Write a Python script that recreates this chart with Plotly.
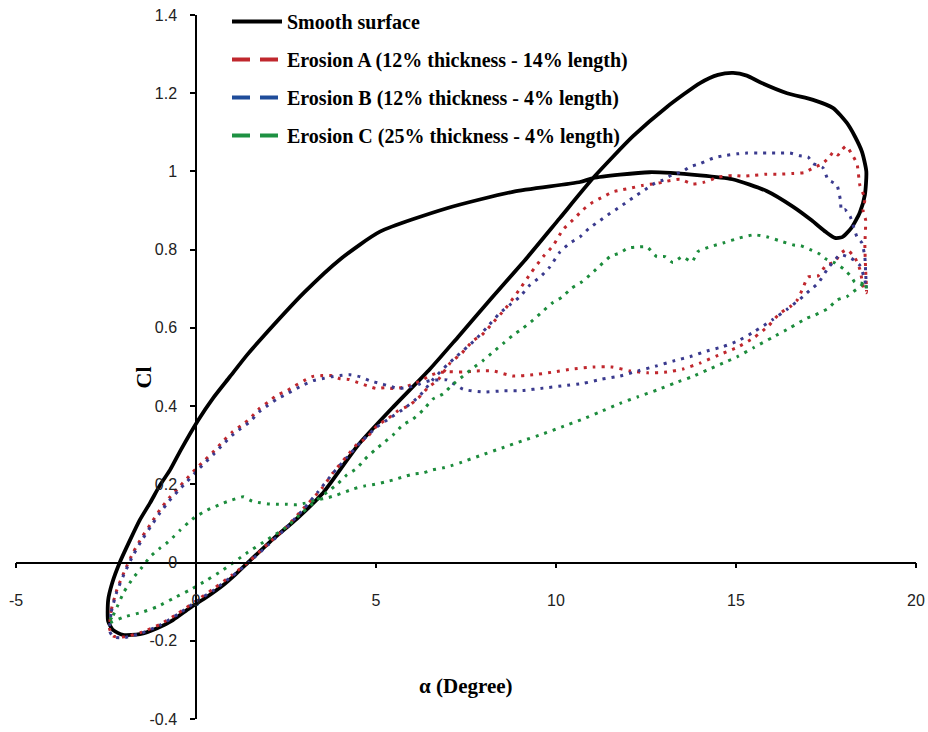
import plotly.graph_objects as go

# ---- Lift coefficient hysteresis loops (alpha in degrees, Cl) ----
smooth_alpha = [-2.44, -2.3, -2.03, -1.56, -1.08, -0.64, -0.17, 0.3, 0.75, 1.1, 1.5, 2.14, 2.8, 3.5,
                4.5, 5.5, 6.5, 7.28, 8.2, 9.2, 10.1, 11.03, 12.14, 13.08, 14.0, 14.5, 14.92, 15.3,
                15.67, 16.42, 17.14, 17.7, 18.08, 18.3, 18.5, 18.62, 18.58, 18.44, 18.2, 17.95,
                17.75, 17.5, 17.1, 16.58, 15.85, 14.9, 14.0, 12.6, 11.03, 10.67, 8.8, 6.97, 5.11,
                4.0, 3.0, 1.78, 1.42, 0.94, 0.47, 0.06, -0.44, -0.72, -1.0, -1.28, -1.56, -1.83,
                -2.11, -2.33, -2.44, -2.44]
smooth_cl = [-0.15, -0.173, -0.185, -0.183, -0.168, -0.147, -0.116, -0.088, -0.058, -0.03, 0.005,
             0.06, 0.112, 0.175, 0.30, 0.40, 0.495, 0.577, 0.675, 0.78, 0.88, 0.983, 1.09, 1.165,
             1.226, 1.247, 1.252, 1.245, 1.228, 1.20, 1.183, 1.162, 1.124, 1.09, 1.05, 1.0, 0.94,
             0.895, 0.855, 0.832, 0.83, 0.845, 0.875, 0.91, 0.95, 0.98, 0.99, 0.998, 0.983, 0.973,
             0.948, 0.906, 0.846, 0.775, 0.69, 0.569, 0.531, 0.475, 0.42, 0.364, 0.285, 0.237,
             0.198, 0.152, 0.109, 0.058, 0.002, -0.053, -0.096, -0.15]

erosion_a_alpha = [-2.4, -2.35, -2.2, -2.0, -1.75, -1.5, -1.25, -1.0, -0.75, -0.5, -0.25, 0.0, 0.25,
                   0.5, 0.75, 1.0, 1.25, 1.5, 1.75, 2.0, 2.25, 2.5, 2.75, 3.0, 3.25, 3.5, 3.75, 4.0,
                   4.25, 4.5, 4.75, 5.0, 5.25, 5.5, 5.75, 6.0, 6.25, 6.5, 6.75, 7.0, 7.42, 7.8, 8.25,
                   8.8, 9.36, 9.92, 10.47, 11.03, 11.56, 12.06, 12.56, 13.08, 13.53, 14.0, 14.5,
                   15.03, 15.5, 15.9, 16.17, 16.36, 16.5, 16.7, 16.86, 17.0, 17.28, 17.5, 17.75,
                   17.9, 18.08, 18.3, 18.44, 18.55, 18.62, 18.6, 18.58, 18.6, 18.53, 18.58, 18.44,
                   18.36, 18.2, 18.06, 17.94, 17.83, 17.7, 17.6, 17.4, 17.14, 16.9, 16.6, 16.2,
                   15.85, 15.5, 15.2, 14.9, 14.5, 14.1, 13.8, 13.44, 13.08, 12.83, 12.39, 12.11,
                   11.83, 11.58, 11.31, 11.03, 10.75, 10.47, 10.19, 9.92, 9.64, 9.3, 9.0, 8.6, 8.17,
                   7.94, 7.69, 7.39, 7.06, 6.72, 6.44, 6.17, 5.89, 5.61, 5.33, 5.03, 4.75, 4.47,
                   4.19, 3.81, 3.5, 3.0, 2.5, 2.0, 1.5, 1.0, 0.5, 0.0, -0.5, -1.0, -1.5, -2.0, -2.3,
                   -2.4]
erosion_a_cl = [-0.17, -0.12, -0.07, -0.025, 0.025, 0.065, 0.1, 0.135, 0.165, 0.19, 0.215, 0.24,
                0.262, 0.285, 0.31, 0.333, 0.35, 0.368, 0.393, 0.41, 0.428, 0.438, 0.452, 0.465,
                0.476, 0.478, 0.478, 0.47, 0.468, 0.46, 0.452, 0.445, 0.447, 0.445, 0.448, 0.455,
                0.465, 0.478, 0.486, 0.488, 0.487, 0.49, 0.49, 0.477, 0.48, 0.487, 0.495, 0.5, 0.5,
                0.49, 0.485, 0.487, 0.495, 0.51, 0.53, 0.55, 0.575, 0.605, 0.633, 0.646, 0.654,
                0.671, 0.702, 0.73, 0.733, 0.76, 0.769, 0.79, 0.80, 0.78, 0.75, 0.70, 0.69, 0.75,
                0.81, 0.876, 0.9, 0.93, 0.965, 1.02, 1.047, 1.065, 1.055, 1.042, 1.05, 1.037, 1.02,
                1.009, 0.997, 0.995, 0.993, 0.993, 0.99, 0.988, 0.99, 0.985, 0.972, 0.968, 0.98,
                0.975, 0.97, 0.964, 0.958, 0.953, 0.948, 0.935, 0.922, 0.902, 0.876, 0.851, 0.81,
                0.782, 0.74, 0.70, 0.65, 0.605, 0.582, 0.567, 0.536, 0.51, 0.467, 0.447, 0.42, 0.40,
                0.388, 0.368, 0.35, 0.32, 0.302, 0.272, 0.23, 0.19, 0.14, 0.09, 0.048, 0.005,
                -0.032, -0.066, -0.098, -0.13, -0.158, -0.178, -0.19, -0.188, -0.17]

erosion_b_alpha = [-2.4, -2.35, -2.2, -2.0, -1.75, -1.5, -1.25, -1.0, -0.75, -0.5, -0.25, 0.0, 0.25,
                   0.5, 0.75, 1.0, 1.25, 1.5, 1.75, 2.0, 2.25, 2.5, 2.75, 3.0, 3.25, 3.5, 3.75, 4.0,
                   4.28, 4.56, 4.83, 5.1, 5.35, 5.6, 5.9, 6.2, 6.5, 6.97, 7.42, 7.97, 8.53, 9.08,
                   9.64, 10.2, 10.75, 11.28, 11.78, 12.28, 12.8, 13.25, 13.78, 14.19, 14.64, 15.06,
                   15.5, 16.0, 16.4, 16.86, 17.06, 17.28, 17.56, 17.9, 18.2, 18.44, 18.58, 18.62,
                   18.6, 18.58, 18.5, 18.36, 18.17, 18.03, 17.93, 17.9, 17.8, 17.65, 17.56, 17.42,
                   17.3, 17.14, 17.0, 16.78, 16.5, 16.2, 15.94, 15.6, 15.3, 15.03, 14.64, 14.36, 14.0,
                   13.72, 13.5, 13.22, 12.97, 12.75, 12.47, 12.25, 11.97, 11.72, 11.44, 11.17, 10.92,
                   10.67, 10.39, 10.11, 9.83, 9.56, 9.28, 9.0, 8.72, 8.44, 8.1, 7.75, 7.53, 7.25,
                   6.97, 6.6, 6.2, 5.8, 5.4, 5.0, 4.6, 4.2, 3.8, 3.4, 3.0, 2.5, 2.0, 1.5, 1.0, 0.5,
                   0.0, -0.5, -1.0, -1.5, -2.0, -2.3, -2.4]
erosion_b_cl = [-0.175, -0.125, -0.075, -0.03, 0.018, 0.058, 0.093, 0.127, 0.157, 0.183, 0.207,
                0.232, 0.255, 0.278, 0.302, 0.325, 0.343, 0.36, 0.385, 0.402, 0.418, 0.43, 0.443,
                0.455, 0.465, 0.47, 0.475, 0.478, 0.48, 0.475, 0.465, 0.458, 0.452, 0.445, 0.448,
                0.456, 0.465, 0.467, 0.443, 0.436, 0.439, 0.44, 0.446, 0.452, 0.458, 0.469, 0.477,
                0.49, 0.503, 0.515, 0.528, 0.541, 0.552, 0.567, 0.59, 0.62, 0.646, 0.68, 0.697,
                0.714, 0.753, 0.787, 0.778, 0.76, 0.722, 0.70, 0.745, 0.78, 0.817, 0.833, 0.885,
                0.902, 0.9, 0.927, 0.966, 0.974, 0.978, 1.009, 1.015, 1.02, 1.037, 1.04, 1.047,
                1.047, 1.047, 1.047, 1.047, 1.045, 1.04, 1.034, 1.02, 1.012, 0.999, 0.991, 0.978,
                0.97, 0.953, 0.94, 0.922, 0.906, 0.889, 0.871, 0.855, 0.833, 0.817, 0.794, 0.756,
                0.73, 0.71, 0.68, 0.659, 0.638, 0.603, 0.569, 0.551, 0.528, 0.505, 0.47, 0.425,
                0.395, 0.37, 0.345, 0.31, 0.27, 0.228, 0.182, 0.138, 0.088, 0.045, 0.003, -0.035,
                -0.07, -0.1, -0.132, -0.16, -0.18, -0.192, -0.19, -0.175]

erosion_c_alpha = [-2.44, -2.3, -2.19, -2.0, -1.75, -1.5, -1.28, -1.0, -0.81, -0.6, -0.44, -0.2,
                   0.0, 0.31, 0.5, 0.75, 1.0, 1.31, 1.56, 1.78, 2.0, 2.25, 2.5, 2.8, 3.03, 3.36,
                   3.67, 3.92, 4.36, 4.69, 4.97, 5.25, 5.47, 5.75, 6.03, 6.31, 6.58, 6.86, 7.14,
                   7.33, 7.94, 8.5, 9.06, 9.61, 10.17, 10.72, 11.22, 11.78, 12.28, 12.8, 13.3,
                   13.78, 14.19, 14.64, 15.03, 15.5, 16.0, 16.5, 16.97, 17.2, 17.56, 17.8, 18.08,
                   18.25, 18.44, 18.58, 18.62, 18.5, 18.3, 18.2, 18.0, 17.75, 17.5, 17.3, 17.06,
                   16.8, 16.6, 16.3, 15.85, 15.5, 15.1, 14.64, 14.3, 13.94, 13.78, 13.5, 13.25,
                   13.03, 12.8, 12.53, 12.28, 12.0, 11.78, 11.5, 11.22, 11.0, 10.72, 10.44, 10.17,
                   9.89, 9.64, 9.36, 9.08, 8.8, 8.53, 8.25, 7.97, 7.69, 7.42, 7.14, 6.86, 6.58, 6.31,
                   6.03, 5.75, 5.47, 5.25, 4.97, 4.69, 4.47, 4.19, 3.92, 3.64, 3.36, 2.94, 2.5,
                   1.97, 1.42, 0.75, 0.3, -0.17, -0.6, -1.08, -1.5, -2.03, -2.44]
erosion_c_cl = [-0.155, -0.135, -0.113, -0.075, -0.04, -0.012, 0.014, 0.037, 0.05, 0.068, 0.083,
                0.103, 0.118, 0.134, 0.142, 0.152, 0.16, 0.168, 0.157, 0.153, 0.15, 0.149, 0.149,
                0.148, 0.152, 0.16, 0.166, 0.173, 0.188, 0.196, 0.2, 0.206, 0.211, 0.219, 0.226,
                0.229, 0.237, 0.242, 0.249, 0.255, 0.275, 0.293, 0.311, 0.328, 0.347, 0.366,
                0.385, 0.407, 0.424, 0.441, 0.459, 0.475, 0.492, 0.51, 0.526, 0.55, 0.575, 0.6,
                0.625, 0.633, 0.65, 0.671, 0.68, 0.692, 0.705, 0.717, 0.70, 0.714, 0.717, 0.731,
                0.75, 0.766, 0.776, 0.79, 0.8, 0.81, 0.812, 0.82, 0.833, 0.838, 0.83, 0.817, 0.808,
                0.795, 0.769, 0.782, 0.767, 0.782, 0.782, 0.807, 0.807, 0.804, 0.792, 0.782,
                0.759, 0.74, 0.718, 0.702, 0.679, 0.663, 0.643, 0.62, 0.599, 0.581, 0.56, 0.538,
                0.516, 0.497, 0.477, 0.456, 0.431, 0.418, 0.39, 0.367, 0.352, 0.326, 0.309, 0.288,
                0.264, 0.241, 0.224, 0.2, 0.18, 0.16, 0.127, 0.09, 0.058, 0.025, -0.019, -0.045,
                -0.07, -0.09, -0.113, -0.127, -0.14, -0.155]

series_names = ["Smooth surface",
                "Erosion A (12% thickness - 14% length)",
                "Erosion B (12% thickness - 4% length)",
                "Erosion C (25% thickness - 4% length)"]

x_tick_vals = [-5, 0, 5, 10, 15, 20]
x_tick_text = ["-5", "0", "5", "10", "15", "20"]
y_tick_vals = [-0.4, -0.2, 0, 0.2, 0.4, 0.6, 0.8, 1.0, 1.2, 1.4]
y_tick_text = ["-0.4", "-0.2", "0", "0.2", "0.4", "0.6", "0.8", "1", "1.2", "1.4"]

X_RANGE = [-5, 20]
Y_RANGE = [-0.4, 1.4]

dot_colors = ["#C0272D", "#3A3A8E", "#1C8C3C"]
key_colors = ["#C0272D", "#1F4C9A", "#1E9142"]
serif = "Liberation Serif"

# plot area in pixels
L, R, T, B = 16, 12, 15, 13
W, H = 928, 732
PW, PH = W - L - R, H - T - B


def px_x(p):
    return (p - L) / PW


def px_y(p):
    return (H - B - p) / PH


fig = go.Figure()

# solid loop for the clean blade
fig.add_trace(go.Scatter(
    x=smooth_alpha, y=smooth_cl, mode="lines", name=series_names[0],
    legendgroup="s", line=dict(color="black", width=3.8, shape="spline", smoothing=0.6),
))

# dotted loops for the eroded blades, with dashed keys in the legend
eroded = [(erosion_a_alpha, erosion_a_cl), (erosion_b_alpha, erosion_b_cl),
          (erosion_c_alpha, erosion_c_cl)]
for i, (xa, ya) in enumerate(eroded):
    grp = "e%d" % i
    fig.add_trace(go.Scatter(
        x=xa, y=ya, mode="lines", name=series_names[i + 1], legendgroup=grp,
        showlegend=False,
        line=dict(color=dot_colors[i], width=3, dash="3px,6px", shape="spline", smoothing=0.5),
    ))
    fig.add_trace(go.Scatter(
        x=[None], y=[None], mode="lines", name=series_names[i + 1], legendgroup=grp,
        line=dict(color=key_colors[i], width=4, dash="18px,10px"),
    ))

# axes cross at the origin
x_pos = (0 - Y_RANGE[0]) / (Y_RANGE[1] - Y_RANGE[0])
y_pos = (0 - X_RANGE[0]) / (X_RANGE[1] - X_RANGE[0])

tick_font = dict(family="Liberation Sans", size=16, color="#222")

fig.update_layout(
    width=W, height=H,
    margin=dict(l=L, r=R, t=T, b=B, autoexpand=False),
    paper_bgcolor="white", plot_bgcolor="white",
    showlegend=True,
    legend=dict(
        x=px_x(227), y=px_y(2), xanchor="left", yanchor="top",
        font=dict(family=serif, size=20, color="black", weight="bold"),
        bgcolor="rgba(0,0,0,0)", traceorder="grouped", tracegroupgap=9,
        itemwidth=50,
    ),
    xaxis=dict(
        range=X_RANGE, anchor="free", position=x_pos, automargin=False,
        tickvals=x_tick_vals, ticktext=x_tick_text,
        showline=True, linecolor="black", linewidth=1.5,
        ticks="outside", ticklen=5, tickwidth=1.5, tickcolor="black",
        ticklabelstandoff=18, tickfont=tick_font,
        showgrid=False, zeroline=False,
    ),
    yaxis=dict(
        range=Y_RANGE, anchor="free", position=y_pos, automargin=False,
        tickvals=y_tick_vals, ticktext=y_tick_text,
        showline=True, linecolor="black", linewidth=1.5,
        ticks="outside", ticklen=5, tickwidth=1.5, tickcolor="black",
        ticklabelstandoff=10, tickfont=tick_font,
        showgrid=False, zeroline=False,
    ),
    annotations=[
        dict(text="Cl", xref="paper", yref="paper", x=px_x(128), y=px_y(378),
             showarrow=False, textangle=-90,
             font=dict(family=serif, size=22, color="black", weight="bold")),
        dict(text="α (Degree)", xref="paper", yref="paper", x=px_x(466),
             y=px_y(700), showarrow=False,
             font=dict(family=serif, size=21, color="black", weight="bold")),
    ],
)

fig.write_html("out.html")
